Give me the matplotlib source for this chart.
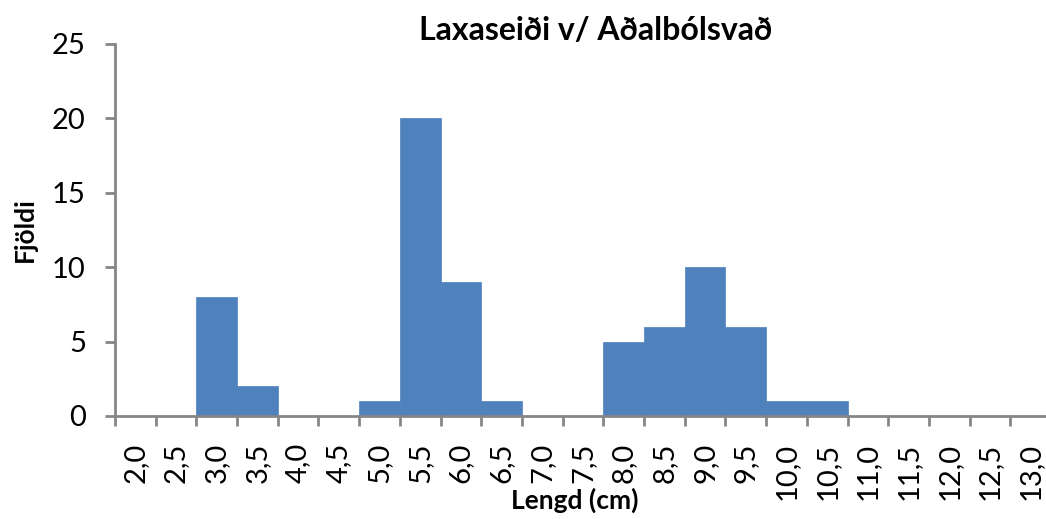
import numpy as np
import matplotlib
matplotlib.use('Agg')
import matplotlib.pyplot as plt

# length classes (cm) and number of salmon fry in each
lengths = ['2,0', '2,5', '3,0', '3,5', '4,0', '4,5', '5,0', '5,5', '6,0', '6,5',
           '7,0', '7,5', '8,0', '8,5', '9,0', '9,5', '10,0', '10,5', '11,0',
           '11,5', '12,0', '12,5', '13,0']
counts = [0, 0, 8, 2, 0, 0, 1, 20, 9, 1, 0, 0, 5, 6, 10, 6, 1, 1, 0, 0, 0, 0, 0]
y_ticks = [0, 5, 10, 15, 20, 25]

plt.rcParams['font.family'] = ['Lato', 'DejaVu Sans']

W, H = 1046, 519
fig = plt.figure(figsize=(W / 100, H / 100), dpi=100)
ax = fig.add_axes([115 / W, (H - 416) / H, (1051 - 115) / W, (416 - 44) / H])

x = np.arange(len(lengths))
ax.bar(x, counts, width=1.0, color='#4F81BD', edgecolor='#4F81BD', linewidth=0.5)

ax.set_xlim(-0.5, len(lengths) - 0.5)
ax.set_ylim(0, 25)
ax.set_yticks(y_ticks)
ax.set_yticklabels([str(v) for v in y_ticks], fontsize=21)
ax.set_xticks(x)
ax.set_xticklabels(lengths, rotation=90, fontsize=21)
ax.set_xticks(np.arange(len(lengths) + 1) - 0.5, minor=True)
ax.tick_params(axis='x', which='major', length=0, pad=19)
ax.tick_params(axis='x', which='minor', length=7, width=2, color='#868686', direction='out')
ax.tick_params(axis='y', length=7, width=2, color='#868686', direction='out', pad=14)

for side in ('top', 'right'):
    ax.spines[side].set_visible(False)
for side in ('left', 'bottom'):
    ax.spines[side].set_color('#868686')
    ax.spines[side].set_linewidth(2)

fig.text(596 / W, 1 - 30 / H, 'Laxaseiði v/ Aðalbólsvað', ha='center', va='center',
         fontsize=23, fontweight='bold')
fig.text(575 / W, 1 - 500 / H, 'Lengd (cm)', ha='center', va='center',
         fontsize=19, fontweight='bold')
fig.text(25 / W, 1 - 230 / H, 'Fjöldi', ha='center', va='center', rotation=90,
         fontsize=19, fontweight='bold')

fig.savefig('out.png', dpi=100)
